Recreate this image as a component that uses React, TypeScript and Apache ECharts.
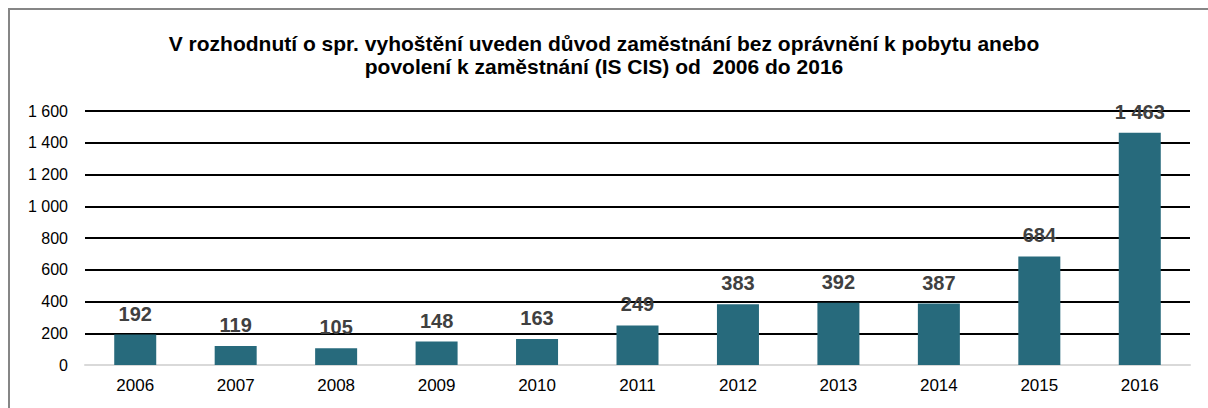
import React, { useEffect, useRef } from "react";
import * as echarts from "echarts";

const years = ["2006", "2007", "2008", "2009", "2010", "2011", "2012", "2013", "2014", "2015", "2016"];
const values = [192, 119, 105, 148, 163, 249, 383, 392, 387, 684, 1463];
const titleText =
  "V rozhodnutí o spr. vyhoštění uveden důvod zaměstnání bez oprávnění k pobytu anebo\npovolení k zaměstnání (IS CIS) od  2006 do 2016";

const fmt = (v: number) => String(v).replace(/\B(?=(\d{3})+(?!\d))/g, " ");

export default function App() {
  const ref = useRef<HTMLDivElement>(null);
  useEffect(() => {
    document.body.style.margin = "0";
    const chart = echarts.init(ref.current!, null, { renderer: "svg" });
    chart.setOption({
      animation: false,
      backgroundColor: "#ffffff",
      textStyle: { fontFamily: "Liberation Sans, Arial, sans-serif" },
      title: {
        text: titleText,
        left: "center",
        top: 27,
        textStyle: {
          fontSize: 21,
          fontWeight: "bold",
          color: "#000000",
          lineHeight: 23,
          fontFamily: "Liberation Sans, Arial, sans-serif",
        },
      },
      graphic: [
        {
          type: "rect",
          shape: { x: 9, y: 9, width: 1260, height: 460 },
          style: { fill: "none", stroke: "#868686", lineWidth: 2 },
          silent: true,
        },
      ],
      grid: { left: 85, right: 18, top: 111, bottom: 43 },
      xAxis: {
        type: "category",
        data: years,
        axisTick: { show: false },
        axisLine: { show: true, lineStyle: { color: "#d9d9d9", width: 2 } },
        axisLabel: { fontSize: 17, color: "#000000", margin: 12 },
      },
      yAxis: {
        type: "value",
        min: 0,
        max: 1600,
        interval: 200,
        axisLine: { show: false },
        axisTick: { show: false },
        axisLabel: { fontSize: 16, color: "#000000", margin: 17, formatter: (v: number) => fmt(v) },
        splitLine: { lineStyle: { color: "#000000", width: 2 } },
      },
      series: [
        {
          type: "bar",
          data: values,
          barWidth: 42,
          z: 3,
          itemStyle: { color: "#276a7c" },
          label: {
            show: true,
            position: "top",
            distance: 11,
            fontSize: 20,
            fontWeight: "bold",
            color: "#404040",
            formatter: (p: any) => fmt(p.value),
          },
        },
      ],
    });
    return () => chart.dispose();
  }, []);
  return <div ref={ref} style={{ width: 1208, height: 408 }} />;
}
